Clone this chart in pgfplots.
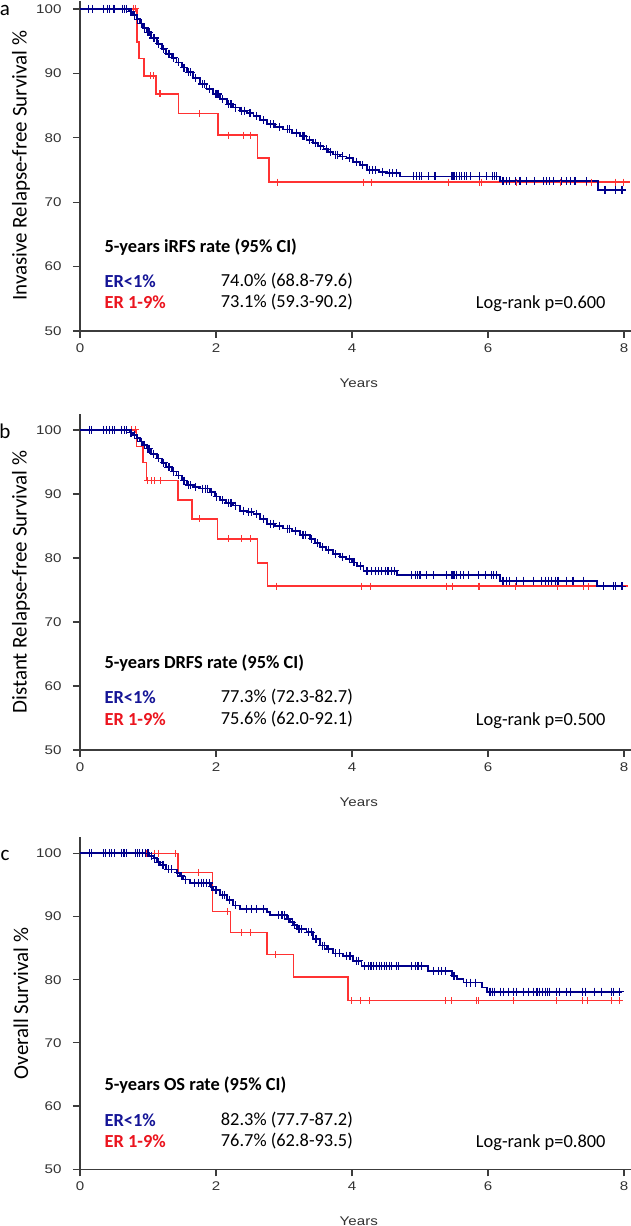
\documentclass[border=0pt]{standalone}
\usepackage{pgfplots}
\pgfplotsset{compat=1.18}
\usepackage{pgfplotstable}
\usepackage{fontspec}
\setmainfont{Carlito}
\newfontfamily\tickfont[FakeStretch=1.2]{Liberation Sans}

\definecolor{kmblue}{RGB}{0,0,139}
\definecolor{kmred}{RGB}{255,50,50}
\definecolor{txtblue}{RGB}{20,20,150}
\definecolor{txtred}{RGB}{235,20,30}
\definecolor{axisgray}{RGB}{60,60,60}
\definecolor{tickgray}{RGB}{50,50,50}

% ---- panel a: iRFS ----
\pgfplotstableread[row sep=\\]{t s\\
0 100\\ 0.72 99.6\\ 0.78 99.06\\ 0.83 98.4\\ 0.88 97.75\\ 0.93 97.1\\ 0.98 96.4\\ 1.05 95.5\\
1.13 94.6\\ 1.20 93.8\\ 1.27 93.05\\ 1.35 92.4\\ 1.42 91.7\\ 1.50 90.9\\ 1.57 90.2\\ 1.66 89.3\\
1.76 88.35\\ 1.86 87.6\\ 1.96 86.8\\ 2.06 86.0\\ 2.16 85.2\\ 2.25 84.7\\ 2.35 84.2\\ 2.45 83.8\\
2.55 83.4\\ 2.65 82.7\\ 2.75 82.1\\ 2.87 81.7\\ 2.99 81.3\\ 3.12 80.8\\ 3.24 80.25\\ 3.33 79.7\\
3.43 79.2\\ 3.50 78.7\\ 3.58 78.2\\ 3.65 77.8\\ 3.72 77.4\\ 3.82 77.1\\ 3.92 76.85\\ 4.02 76.3\\
4.12 75.8\\ 4.22 75.0\\ 4.40 74.7\\ 4.51 74.5\\ 4.71 74.0\\ 6.18 73.3\\ 7.62 71.9\\ 8.03 71.9\\
}\aBlue
\pgfplotstableread[row sep=\\]{t s\\
0.13 100\\ 0.18 100\\ 0.34 100\\ 0.40 100\\ 0.44 100\\ 0.49 100\\ 0.51 100\\ 0.63 100\\ 0.66 100\\ 0.69 100\\
0.75 99.6\\ 0.80 99.06\\ 0.85 98.4\\ 0.90 97.75\\ 0.95 97.1\\ 1.00 96.4\\ 1.02 96.4\\ 1.08 95.5\\ 1.10 95.5\\
1.16 94.6\\ 1.23 93.8\\ 1.30 93.05\\ 1.32 93.05\\ 1.38 92.4\\ 1.45 91.7\\ 1.53 90.9\\ 1.60 90.2\\ 1.63 90.2\\
1.70 89.3\\ 1.80 88.35\\ 1.83 88.35\\ 1.90 87.6\\ 2.00 86.8\\ 2.03 86.8\\ 2.10 86.0\\ 2.19 85.2\\ 2.22 85.2\\
2.29 84.7\\ 2.38 84.2\\ 2.42 84.2\\ 2.50 83.8\\ 2.60 83.4\\ 2.70 82.7\\ 2.80 82.1\\ 2.84 82.1\\ 2.93 81.7\\
3.05 81.3\\ 3.08 81.3\\ 3.18 80.8\\ 3.28 80.25\\ 3.30 80.25\\ 3.38 79.7\\ 3.46 79.2\\ 3.54 78.7\\ 3.62 78.2\\
3.68 77.8\\ 3.76 77.4\\ 3.79 77.4\\ 3.86 77.1\\ 3.96 76.85\\ 4.06 76.3\\ 4.16 75.8\\ 4.26 75.0\\ 4.30 75.0\\
4.34 75.0\\ 4.45 74.7\\ 4.55 74.5\\ 4.60 74.5\\ 4.66 74.5\\
4.90 74.0\\ 4.95 74.0\\ 4.99 74.0\\ 5.02 74.0\\ 5.12 74.0\\ 5.22 74.0\\ 5.47 74.0\\ 5.50 74.0\\ 5.54 74.0\\
5.58 74.0\\ 5.61 74.0\\ 5.65 74.0\\ 5.69 74.0\\ 5.74 74.0\\ 5.88 74.0\\ 5.98 74.0\\ 6.07 74.0\\ 6.10 74.0\\ 6.13 74.0\\
6.22 73.3\\ 6.27 73.3\\ 6.32 73.3\\ 6.40 73.3\\ 6.47 73.3\\ 6.57 73.3\\ 6.69 73.3\\ 6.81 73.3\\ 6.86 73.3\\
6.91 73.3\\ 6.96 73.3\\ 7.08 73.3\\ 7.16 73.3\\ 7.21 73.3\\ 7.28 73.3\\ 7.45 73.3\\
7.72 71.9\\ 7.87 71.9\\ 7.97 71.9\\
}\aBlueC
\pgfplotstableread[row sep=\\]{t s\\
0 100\\ 0.84 94.9\\ 0.87 92.3\\ 0.94 89.6\\ 1.12 86.8\\ 1.45 83.75\\ 2.03 80.4\\ 2.61 76.85\\ 2.78 73.1\\ 8.09 73.1\\
}\aRed
\pgfplotstableread[row sep=\\]{t s\\
0.51 100\\ 0.78 100\\ 0.82 100\\ 1.03 89.6\\ 1.08 89.6\\ 1.17 86.8\\ 1.18 86.8\\ 1.75 83.75\\ 2.19 80.4\\
2.40 80.4\\ 2.50 80.4\\ 2.91 73.1\\ 4.17 73.1\\ 4.29 73.1\\ 5.42 73.1\\ 5.88 73.1\\ 5.91 73.1\\ 6.42 73.1\\
7.06 73.1\\ 7.45 73.1\\ 7.52 73.1\\ 7.87 73.1\\ 7.99 73.1\\
}\aRedC

% ---- panel b: DRFS ----
\pgfplotstableread[row sep=\\]{t s\\
0 100\\ 0.73 99.6\\ 0.78 99.2\\ 0.83 98.7\\ 0.88 98.2\\ 0.93 97.6\\ 0.98 97.1\\ 1.05 96.3\\ 1.13 95.55\\
1.20 94.9\\ 1.27 94.2\\ 1.35 93.5\\ 1.42 92.9\\ 1.50 92.1\\ 1.57 91.4\\ 1.66 91.1\\ 1.76 90.85\\ 1.91 90.3\\
1.98 89.6\\ 2.06 89.0\\ 2.15 88.6\\ 2.25 88.2\\ 2.35 87.4\\ 2.45 87.2\\ 2.55 86.9\\ 2.65 86.1\\ 2.75 85.35\\
2.87 85.0\\ 2.99 84.6\\ 3.12 84.2\\ 3.24 83.6\\ 3.38 83.0\\ 3.45 82.3\\ 3.53 81.7\\ 3.62 81.2\\ 3.72 80.6\\
3.82 80.2\\ 3.92 79.85\\ 4.00 79.3\\ 4.07 78.8\\ 4.17 78.0\\ 4.66 77.35\\ 6.18 76.45\\ 7.60 75.6\\ 7.99 75.6\\
}\bBlue
\pgfplotstableread[row sep=\\]{t s\\
0.14 100\\ 0.17 100\\ 0.34 100\\ 0.39 100\\ 0.44 100\\ 0.48 100\\ 0.51 100\\ 0.61 100\\ 0.65 100\\ 0.68 100\\
0.75 99.6\\ 0.80 99.2\\ 0.85 98.7\\ 0.90 98.2\\ 0.95 97.6\\ 1.00 97.1\\ 1.02 97.1\\ 1.08 96.3\\ 1.16 95.55\\
1.23 94.9\\ 1.30 94.2\\ 1.32 94.2\\ 1.38 93.5\\ 1.45 92.9\\ 1.53 92.1\\ 1.60 91.4\\ 1.63 91.4\\ 1.70 91.1\\
1.80 90.85\\ 1.84 90.85\\ 1.88 90.85\\ 1.94 90.3\\ 2.01 89.6\\ 2.10 89.0\\ 2.18 88.6\\ 2.22 88.6\\ 2.29 88.2\\
2.40 87.4\\ 2.48 87.2\\ 2.52 87.2\\ 2.60 86.9\\ 2.70 86.1\\ 2.80 85.35\\ 2.84 85.35\\ 2.93 85.0\\ 3.05 84.6\\
3.08 84.6\\ 3.17 84.2\\ 3.28 83.6\\ 3.32 83.6\\ 3.41 83.0\\ 3.49 82.3\\ 3.57 81.7\\ 3.66 81.2\\ 3.76 80.6\\
3.86 80.2\\ 3.96 79.85\\ 4.03 79.3\\ 4.12 78.8\\
4.22 78.0\\ 4.29 78.0\\ 4.34 78.0\\ 4.39 78.0\\ 4.44 78.0\\ 4.49 78.0\\ 4.53 78.0\\ 4.58 78.0\\ 4.63 78.0\\
4.88 77.35\\ 4.93 77.35\\ 4.96 77.35\\ 5.00 77.35\\ 5.10 77.35\\ 5.20 77.35\\ 5.39 77.35\\ 5.47 77.35\\ 5.50 77.35\\
5.54 77.35\\ 5.59 77.35\\ 5.64 77.35\\ 5.71 77.35\\ 5.86 77.35\\ 5.96 77.35\\ 6.05 77.35\\ 6.08 77.35\\ 6.13 77.35\\
6.22 76.45\\ 6.27 76.45\\ 6.32 76.45\\ 6.42 76.45\\ 6.52 76.45\\ 6.67 76.45\\ 6.79 76.45\\ 6.84 76.45\\ 6.89 76.45\\
6.94 76.45\\ 6.99 76.45\\ 7.03 76.45\\ 7.16 76.45\\ 7.25 76.45\\ 7.40 76.45\\
7.70 75.6\\ 7.84 75.6\\ 7.87 75.6\\ 7.97 75.6\\
}\bBlueC
\pgfplotstableread[row sep=\\]{t s\\
0 100\\ 0.83 97.4\\ 0.93 94.9\\ 0.98 92.1\\ 1.44 89.1\\ 1.65 86.1\\ 2.02 83.0\\ 2.61 79.2\\ 2.76 75.6\\ 8.06 75.6\\
}\bRed
\pgfplotstableread[row sep=\\]{t s\\
0.76 100\\ 0.81 100\\ 1.00 92.1\\ 1.05 92.1\\ 1.10 92.1\\ 1.18 92.1\\ 1.75 86.1\\ 2.19 83.0\\ 2.38 83.0\\
2.50 83.0\\ 2.89 75.6\\ 4.14 75.6\\ 4.27 75.6\\ 5.39 75.6\\ 5.48 75.6\\ 5.86 75.6\\ 5.88 75.6\\ 6.40 75.6\\
7.02 75.6\\ 7.41 75.6\\ 7.48 75.6\\ 7.84 75.6\\
}\bRedC

% ---- panel c: OS ----
\pgfplotstableread[row sep=\\]{t s\\
0 100\\ 1.02 99.6\\ 1.08 99.2\\ 1.13 98.6\\ 1.18 98.1\\ 1.27 97.45\\ 1.42 96.9\\ 1.47 96.4\\ 1.52 95.85\\
1.62 95.3\\ 1.92 94.7\\ 1.96 94.15\\ 2.06 93.35\\ 2.16 92.55\\ 2.25 91.75\\ 2.35 91.2\\ 2.75 90.7\\ 2.79 90.2\\
3.04 89.6\\ 3.09 89.1\\ 3.14 88.6\\ 3.19 88.05\\ 3.33 87.5\\ 3.43 86.45\\ 3.53 85.4\\ 3.63 84.85\\ 3.72 84.15\\
3.87 83.8\\ 4.02 83.0\\ 4.14 82.2\\ 5.12 81.4\\ 5.47 80.6\\ 5.54 80.1\\ 5.64 79.55\\ 5.91 78.75\\ 5.98 78.1\\ 7.97 78.1\\
}\cBlue
\pgfplotstableread[row sep=\\]{t s\\
0.14 100\\ 0.17 100\\ 0.34 100\\ 0.38 100\\ 0.43 100\\ 0.46 100\\ 0.51 100\\ 0.61 100\\ 0.64 100\\ 0.66 100\\
0.69 100\\ 0.81 100\\ 0.84 100\\ 0.88 100\\ 0.92 100\\ 0.96 100\\ 1.00 100\\
1.05 99.6\\ 1.10 99.2\\ 1.15 98.6\\ 1.22 98.1\\ 1.30 97.45\\ 1.35 97.45\\ 1.44 96.9\\ 1.49 96.4\\ 1.55 95.85\\
1.69 95.3\\ 1.74 95.3\\ 1.79 95.3\\ 1.82 95.3\\ 1.86 95.3\\ 1.90 95.3\\ 1.94 94.7\\ 2.00 94.15\\ 2.10 93.35\\
2.12 93.35\\ 2.20 92.55\\ 2.29 91.75\\ 2.45 91.2\\ 2.52 91.2\\ 2.60 91.2\\ 2.70 91.2\\ 2.92 90.2\\ 2.97 90.2\\
3.01 90.2\\ 3.06 89.6\\ 3.12 89.1\\ 3.16 88.6\\ 3.22 88.05\\ 3.26 88.05\\ 3.36 87.5\\ 3.40 87.5\\ 3.47 86.45\\
3.56 85.4\\ 3.60 85.4\\ 3.66 84.85\\ 3.76 84.15\\ 3.82 84.15\\ 3.92 83.8\\ 3.97 83.8\\ 4.07 83.0\\ 4.10 83.0\\
4.19 82.2\\ 4.24 82.2\\ 4.28 82.2\\ 4.32 82.2\\ 4.36 82.2\\ 4.40 82.2\\ 4.44 82.2\\ 4.48 82.2\\ 4.51 82.2\\
4.55 82.2\\ 4.58 82.2\\ 4.66 82.2\\ 4.68 82.2\\ 4.88 82.2\\ 4.93 82.2\\ 4.97 82.2\\ 5.02 82.2\\
5.20 81.4\\ 5.27 81.4\\ 5.32 81.4\\ 5.37 81.4\\ 5.50 80.6\\ 5.69 79.55\\ 5.74 79.55\\ 5.81 79.55\\
6.03 78.1\\ 6.07 78.1\\ 6.10 78.1\\ 6.18 78.1\\ 6.23 78.1\\ 6.30 78.1\\ 6.37 78.1\\ 6.42 78.1\\ 6.52 78.1\\
6.59 78.1\\ 6.67 78.1\\ 6.72 78.1\\ 6.76 78.1\\ 6.80 78.1\\ 6.84 78.1\\ 6.87 78.1\\ 6.91 78.1\\ 7.01 78.1\\
7.05 78.1\\ 7.16 78.1\\ 7.21 78.1\\ 7.39 78.1\\ 7.43 78.1\\ 7.57 78.1\\ 7.67 78.1\\ 7.82 78.1\\ 7.85 78.1\\ 7.94 78.1\\
}\cBlueC
\pgfplotstableread[row sep=\\]{t s\\
0 100\\ 1.44 97.0\\ 1.95 90.8\\ 2.21 87.5\\ 2.75 84.0\\ 3.14 80.4\\ 3.94 76.7\\ 7.97 76.7\\
}\cRed
\pgfplotstableread[row sep=\\]{t s\\
0.81 100\\ 0.98 100\\ 1.10 100\\ 1.15 100\\ 1.40 100\\ 1.74 97.0\\ 2.17 90.8\\ 2.38 87.5\\ 2.50 87.5\\
2.88 84.0\\ 3.99 76.7\\ 4.13 76.7\\ 4.26 76.7\\ 5.38 76.7\\ 5.47 76.7\\ 5.83 76.7\\ 5.86 76.7\\ 6.37 76.7\\
7.01 76.7\\ 7.39 76.7\\ 7.46 76.7\\ 7.82 76.7\\ 7.94 76.7\\
}\cRedC

\pgfplotsset{
  km/.style={
    axis lines=left, axis line style={-, draw=axisgray, line width=1.2pt},
    x=68pt, xmin=0, xmax=8.1, ymin=50,
    xtick={0,2,4,6,8}, ytick={50,60,70,80,90,100},
    tick align=outside, major tick length=7pt,
    tick style={draw=axisgray, line width=1.2pt},
    ticklabel style={font=\tickfont\fontsize{12.6}{14}\selectfont, text=tickgray},
    yticklabel style={xshift=-8pt},
    xticklabel style={yshift=-2pt},
    /pgf/number format/assume math mode=true,
    clip=false, anchor=south west,
  },
  bluekm/.style={const plot mark left, no marks, draw=kmblue, line width=1.8pt},
  redkm/.style={const plot mark left, no marks, draw=kmred, line width=1.5pt},
  bluec/.style={only marks, mark=+, mark size=4pt, mark options={draw=kmblue, line width=1.1pt}},
  redc/.style={only marks, mark=+, mark size=3.5pt, mark options={draw=kmred, line width=1pt}},
}
\newcommand{\annfont}{\fontsize{18.4}{22}\selectfont}
\newcommand{\yearsnode}{\node[font=\tickfont\fontsize{12.6}{14}\selectfont, text=tickgray, yshift=-52pt] at (axis cs:4.1,50) {Years};}

\begin{document}
\begin{tikzpicture}
\path[use as bounding box] (0,0) rectangle (631pt,1226pt);

\node[font=\fontsize{21}{24}\selectfont] at (5pt,1216pt) {a};
\node[font=\fontsize{21}{24}\selectfont] at (5pt,795pt) {b};
\node[font=\fontsize{21}{24}\selectfont] at (5pt,371pt) {c};

% panel a
\begin{axis}[km, y=6.44pt, ymax=101.3, at={(80pt,895pt)}]
\addplot[redkm] table[x=t,y=s] {\aRed};
\addplot[redc] table[x=t,y=s] {\aRedC};
\addplot[bluekm] table[x=t,y=s] {\aBlue};
\addplot[bluec] table[x=t,y=s] {\aBlueC};
\node[rotate=90, font=\fontsize{21}{24}\selectfont] at (axis cs:-0.868,75.65) {Invasive Relapse-free Survival \%};
\node[anchor=west, font=\annfont\bfseries] at (axis cs:0.31,63.0) {5-years iRFS rate (95\% CI)};
\node[anchor=west, font=\annfont\bfseries, text=txtblue] at (axis cs:0.31,57.8) {ER<1\%};
\node[anchor=west, font=\annfont\bfseries, text=txtred] at (axis cs:0.31,54.5) {ER 1-9\%};
\node[anchor=west, font=\annfont] at (axis cs:2.02,57.8) {74.0\% (68.8-79.6)};
\node[anchor=west, font=\annfont] at (axis cs:2.02,54.5) {73.1\% (59.3-90.2)};
\node[anchor=east, font=\annfont] at (axis cs:7.78,54.3) {Log-rank p=0.600};
\yearsnode
\end{axis}

% panel b
\begin{axis}[km, y=6.4pt, ymax=102.5, at={(80pt,476pt)}]
\addplot[redkm] table[x=t,y=s] {\bRed};
\addplot[redc] table[x=t,y=s] {\bRedC};
\addplot[bluekm] table[x=t,y=s] {\bBlue};
\addplot[bluec] table[x=t,y=s] {\bBlueC};
\node[rotate=90, font=\fontsize{21}{24}\selectfont] at (axis cs:-0.868,76.25) {Distant Relapse-free Survival \%};
\node[anchor=west, font=\annfont\bfseries] at (axis cs:0.31,63.6) {5-years DRFS rate (95\% CI)};
\node[anchor=west, font=\annfont\bfseries, text=txtblue] at (axis cs:0.31,58.3) {ER<1\%};
\node[anchor=west, font=\annfont\bfseries, text=txtred] at (axis cs:0.31,54.8) {ER 1-9\%};
\node[anchor=west, font=\annfont] at (axis cs:2.02,58.3) {77.3\% (72.3-82.7)};
\node[anchor=west, font=\annfont] at (axis cs:2.02,54.8) {75.6\% (62.0-92.1)};
\node[anchor=east, font=\annfont] at (axis cs:7.78,54.6) {Log-rank p=0.500};
\yearsnode
\end{axis}

% panel c
\begin{axis}[km, y=6.32pt, ymax=102.5, at={(80pt,56.7pt)}]
\addplot[redkm] table[x=t,y=s] {\cRed};
\addplot[redc] table[x=t,y=s] {\cRedC};
\addplot[bluekm] table[x=t,y=s] {\cBlue};
\addplot[bluec] table[x=t,y=s] {\cBlueC};
\node[rotate=90, font=\fontsize{21}{24}\selectfont] at (axis cs:-0.868,76.25) {Overall Survival \%};
\node[anchor=west, font=\annfont\bfseries] at (axis cs:0.31,63.3) {5-years OS rate (95\% CI)};
\node[anchor=west, font=\annfont\bfseries, text=txtblue] at (axis cs:0.31,57.8) {ER<1\%};
\node[anchor=west, font=\annfont\bfseries, text=txtred] at (axis cs:0.31,54.4) {ER 1-9\%};
\node[anchor=west, font=\annfont] at (axis cs:2.02,57.8) {82.3\% (77.7-87.2)};
\node[anchor=west, font=\annfont] at (axis cs:2.02,54.4) {76.7\% (62.8-93.5)};
\node[anchor=east, font=\annfont] at (axis cs:7.78,54.2) {Log-rank p=0.800};
\yearsnode
\end{axis}
\end{tikzpicture}
\end{document}
